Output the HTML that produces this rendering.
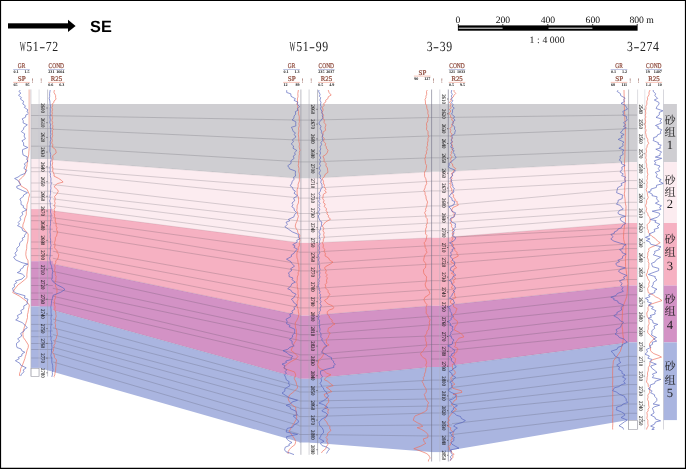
<!DOCTYPE html>
<html lang="zh"><head><meta charset="utf-8"><title>SE section</title>
<style>html,body{margin:0;padding:0;background:#fff}body{width:686px;height:469px;overflow:hidden}svg{display:block}</style>
</head><body>
<svg width="686" height="469" viewBox="0 0 686 469" text-rendering="geometricPrecision">
<rect x="0" y="0" width="686" height="469" fill="#fff"/>
<g id="bands">
<polygon points="39.6,104.0 300.9,104.0 300.9,178.5 39.6,159.0" fill="#cfced2"/>
<polygon points="39.6,159.0 300.9,178.5 300.9,242.9 39.6,209.1" fill="#fcecf0"/>
<polygon points="39.6,209.1 300.9,242.9 300.9,315.6 39.6,261.2" fill="#f6b1c2"/>
<polygon points="39.6,261.2 300.9,315.6 300.9,378.8 39.6,306.4" fill="#d392c5"/>
<polygon points="39.6,306.4 300.9,378.8 300.9,442.5 39.6,367.9" fill="#aab5e0"/>
<polygon points="309.5,104.0 431.4,104.0 431.4,171.8 309.5,178.5" fill="#cfced2"/>
<polygon points="309.5,178.5 431.4,171.8 431.4,237.8 309.5,242.9" fill="#fcecf0"/>
<polygon points="309.5,242.9 431.4,237.8 431.4,305.8 309.5,315.6" fill="#f6b1c2"/>
<polygon points="309.5,315.6 431.4,305.8 431.4,367.0 309.5,378.8" fill="#d392c5"/>
<polygon points="309.5,378.8 431.4,367.0 431.4,452.1 309.5,442.5" fill="#aab5e0"/>
<polygon points="440.0,104.0 628.6,104.0 628.6,162.2 440.0,171.8" fill="#cfced2"/>
<polygon points="440.0,171.8 628.6,162.2 628.6,223.0 440.0,237.8" fill="#fcecf0"/>
<polygon points="440.0,237.8 628.6,223.0 628.6,285.5 440.0,305.8" fill="#f6b1c2"/>
<polygon points="440.0,305.8 628.6,285.5 628.6,342.4 440.0,367.0" fill="#d392c5"/>
<polygon points="440.0,367.0 628.6,342.4 628.6,420.1 440.0,452.1" fill="#aab5e0"/>
</g>
<path id="sub" fill="none" stroke="#3a3a48" stroke-opacity="0.34" stroke-width="0.6" d="M39.6 115.5L300.9 120.1M39.6 128.6L300.9 140.2M39.6 146.2L300.9 161.9M39.6 167.8L300.9 188.4M39.6 171.7L300.9 198.1M39.6 183.0L300.9 213.5M39.6 191.2L300.9 221.2M39.6 197.2L300.9 229.6M39.6 203.7L300.9 238.2M39.6 215.9L300.9 252.2M39.6 220.7L300.9 264.1M39.6 229.2L300.9 270.9M39.6 242.0L300.9 288.8M39.6 248.7L300.9 298.0M39.6 255.6L300.9 307.9M39.6 268.4L300.9 325.5M39.6 278.1L300.9 334.7M39.6 285.5L300.9 340.7M39.6 293.0L300.9 354.8M39.6 299.5L300.9 360.3M39.6 315.4L300.9 386.9M39.6 324.4L300.9 392.0M39.6 331.0L300.9 401.0M39.6 336.7L300.9 408.3M39.6 343.5L300.9 416.6M39.6 349.5L300.9 426.0M39.6 358.0L300.9 434.5M309.5 120.1L431.4 117.5M309.5 140.2L431.4 135.9M309.5 161.9L431.4 157.8M309.5 188.4L431.4 181.2M309.5 198.1L431.4 190.9M309.5 213.5L431.4 205.9M309.5 221.2L431.4 215.8M309.5 229.6L431.4 223.0M309.5 238.2L431.4 230.7M309.5 252.2L431.4 245.7M309.5 264.1L431.4 255.6M309.5 270.9L431.4 264.1M309.5 288.8L431.4 280.7M309.5 298.0L431.4 289.7M309.5 307.9L431.4 299.1M309.5 325.5L431.4 316.3M309.5 334.7L431.4 324.8M309.5 340.7L431.4 335.9M309.5 354.8L431.4 344.5M309.5 360.3L431.4 351.3M309.5 386.9L431.4 380.1M309.5 392.0L431.4 389.0M309.5 401.0L431.4 398.9M309.5 408.3L431.4 406.0M309.5 416.6L431.4 413.0M309.5 426.0L431.4 425.0M309.5 434.5L431.4 436.0M440.0 117.5L628.6 115.1M440.0 135.9L628.6 128.7M440.0 157.8L628.6 150.3M440.0 181.2L628.6 170.7M440.0 190.9L628.6 180.6M440.0 205.9L628.6 188.6M440.0 215.8L628.6 202.3M440.0 223.0L628.6 209.9M440.0 230.7L628.6 216.0M440.0 245.7L628.6 233.3M440.0 255.6L628.6 244.0M440.0 264.1L628.6 248.6M440.0 280.7L628.6 259.7M440.0 289.7L628.6 268.2M440.0 299.1L628.6 279.5M440.0 316.3L628.6 294.8M440.0 324.8L628.6 305.1M440.0 335.9L628.6 313.6M440.0 344.5L628.6 323.0M440.0 351.3L628.6 332.4M440.0 380.1L628.6 356.4M440.0 389.0L628.6 365.0M440.0 398.9L628.6 375.2M440.0 406.0L628.6 384.6M440.0 413.0L628.6 394.0M440.0 425.0L628.6 404.0M440.0 436.0L628.6 413.3M440.0 237.8L628.6 228.1"/>
<path id="bl" fill="none" stroke="#3a3a48" stroke-opacity="0.2" stroke-width="0.5" d="M39.6 159.0L300.9 178.5M39.6 209.1L300.9 242.9M39.6 261.2L300.9 315.6M39.6 306.4L300.9 378.8M309.5 178.5L431.4 171.8M309.5 242.9L431.4 237.8M309.5 315.6L431.4 305.8M309.5 378.8L431.4 367.0M440.0 171.8L628.6 162.2M440.0 237.8L628.6 223.0M440.0 305.8L628.6 285.5M440.0 367.0L628.6 342.4"/>
<g id="wellfill">
<rect x="31.0" y="104.0" width="21.8" height="55.0" fill="#cfced2"/>
<rect x="31.0" y="159.0" width="21.8" height="50.1" fill="#fcecf0"/>
<rect x="31.0" y="209.1" width="21.8" height="52.1" fill="#f6b1c2"/>
<rect x="31.0" y="261.2" width="21.8" height="45.2" fill="#d392c5"/>
<rect x="31.0" y="306.4" width="21.8" height="61.5" fill="#aab5e0"/>
<rect x="299.3" y="104.0" width="21.2" height="74.5" fill="#cfced2"/>
<rect x="299.3" y="178.5" width="21.2" height="64.4" fill="#fcecf0"/>
<rect x="299.3" y="242.9" width="21.2" height="72.7" fill="#f6b1c2"/>
<rect x="299.3" y="315.6" width="21.2" height="63.2" fill="#d392c5"/>
<rect x="299.3" y="378.8" width="21.2" height="63.7" fill="#aab5e0"/>
<rect x="431.0" y="104.0" width="21.0" height="67.8" fill="#cfced2"/>
<rect x="431.0" y="171.8" width="21.0" height="66.0" fill="#fcecf0"/>
<rect x="431.0" y="237.8" width="21.0" height="68.0" fill="#f6b1c2"/>
<rect x="431.0" y="305.8" width="21.0" height="61.2" fill="#d392c5"/>
<rect x="431.0" y="367.0" width="21.0" height="85.1" fill="#aab5e0"/>
<rect x="626.5" y="104.0" width="10.7" height="58.2" fill="#cfced2"/>
<rect x="626.5" y="162.2" width="10.7" height="60.8" fill="#fcecf0"/>
<rect x="626.5" y="223.0" width="10.7" height="62.5" fill="#f6b1c2"/>
<rect x="626.5" y="285.5" width="10.7" height="56.9" fill="#d392c5"/>
<rect x="626.5" y="342.4" width="10.7" height="77.7" fill="#aab5e0"/>
</g>
<path id="subw" fill="none" stroke="#3a3a48" stroke-opacity="0.34" stroke-width="0.6" d="M31.0 115.5H52.8M31.0 128.6H52.8M31.0 146.2H52.8M31.0 167.8H52.8M31.0 171.7H52.8M31.0 183.0H52.8M31.0 191.2H52.8M31.0 197.2H52.8M31.0 203.7H52.8M31.0 215.9H52.8M31.0 220.7H52.8M31.0 229.2H52.8M31.0 242.0H52.8M31.0 248.7H52.8M31.0 255.6H52.8M31.0 268.4H52.8M31.0 278.1H52.8M31.0 285.5H52.8M31.0 293.0H52.8M31.0 299.5H52.8M31.0 315.4H52.8M31.0 324.4H52.8M31.0 331.0H52.8M31.0 336.7H52.8M31.0 343.5H52.8M31.0 349.5H52.8M31.0 358.0H52.8M299.3 120.1H320.5M299.3 140.2H320.5M299.3 161.9H320.5M299.3 188.4H320.5M299.3 198.1H320.5M299.3 213.5H320.5M299.3 221.2H320.5M299.3 229.6H320.5M299.3 238.2H320.5M299.3 252.2H320.5M299.3 264.1H320.5M299.3 270.9H320.5M299.3 288.8H320.5M299.3 298.0H320.5M299.3 307.9H320.5M299.3 325.5H320.5M299.3 334.7H320.5M299.3 340.7H320.5M299.3 354.8H320.5M299.3 360.3H320.5M299.3 386.9H320.5M299.3 392.0H320.5M299.3 401.0H320.5M299.3 408.3H320.5M299.3 416.6H320.5M299.3 426.0H320.5M299.3 434.5H320.5M431.0 117.5H452.0M431.0 135.9H452.0M431.0 157.8H452.0M431.0 181.2H452.0M431.0 190.9H452.0M431.0 205.9H452.0M431.0 215.8H452.0M431.0 223.0H452.0M431.0 230.7H452.0M431.0 245.7H452.0M431.0 255.6H452.0M431.0 264.1H452.0M431.0 280.7H452.0M431.0 289.7H452.0M431.0 299.1H452.0M431.0 316.3H452.0M431.0 324.8H452.0M431.0 335.9H452.0M431.0 344.5H452.0M431.0 351.3H452.0M431.0 359.0H452.0M431.0 380.1H452.0M431.0 389.0H452.0M431.0 398.9H452.0M431.0 406.0H452.0M431.0 413.0H452.0M431.0 425.0H452.0M431.0 436.0H452.0M626.5 115.1H637.2M626.5 128.7H637.2M626.5 150.3H637.2M626.5 170.7H637.2M626.5 180.6H637.2M626.5 188.6H637.2M626.5 202.3H637.2M626.5 209.9H637.2M626.5 216.0H637.2M626.5 233.3H637.2M626.5 244.0H637.2M626.5 248.6H637.2M626.5 259.7H637.2M626.5 268.2H637.2M626.5 279.5H637.2M626.5 294.8H637.2M626.5 305.1H637.2M626.5 313.6H637.2M626.5 323.0H637.2M626.5 332.4H637.2M626.5 356.4H637.2M626.5 365.0H637.2M626.5 375.2H637.2M626.5 384.6H637.2M626.5 394.0H637.2M626.5 404.0H637.2M626.5 413.3H637.2M626.5 228.1H637.2"/>
<g id="labels">
<rect x="663.3" y="104.0" width="13.6" height="58.2" fill="#cfced2"/>
<rect x="663.3" y="162.2" width="13.6" height="60.8" fill="#fcecf0"/>
<rect x="663.3" y="223.0" width="13.6" height="62.5" fill="#f6b1c2"/>
<rect x="663.3" y="285.5" width="13.6" height="56.9" fill="#d392c5"/>
<rect x="663.3" y="342.4" width="13.6" height="77.7" fill="#aab5e0"/>
</g>
<rect x="637.2" y="89.5" width="26.1" height="340" fill="#fff"/>
<g font-family="'Liberation Serif','Noto Serif CJK SC',serif" font-size="11.2" fill="#1e1e1e" text-anchor="middle">
<text x="670.0" y="123.5">砂</text>
<text x="670.0" y="136.4">组</text>
<text x="670.0" y="148.9" font-size="12.6">1</text>
<text x="670.0" y="183.6">砂</text>
<text x="670.0" y="195.6">组</text>
<text x="670.0" y="208.2" font-size="12.6">2</text>
<text x="670.0" y="243.2">砂</text>
<text x="670.0" y="255.6">组</text>
<text x="670.0" y="269.9" font-size="12.6">3</text>
<text x="670.0" y="303.1">砂</text>
<text x="670.0" y="315.4">组</text>
<text x="670.0" y="328.9" font-size="12.6">4</text>
<text x="670.0" y="370.2">砂</text>
<text x="670.0" y="384.2">组</text>
<text x="670.0" y="397.2" font-size="12.6">5</text>
</g>
<g id="wells">
<g stroke="#8c8c98" stroke-width="0.6" fill="none">
<line x1="30.9" y1="89.5" x2="30.9" y2="376.4" stroke="#b0b0bc"/>
<line x1="39.1" y1="89.5" x2="39.1" y2="376.4" stroke="#c4c4ce" stroke-width="0.5"/>
<line x1="47.6" y1="89.5" x2="47.6" y2="376.4" stroke="#a0a0ae"/>
</g>
<rect x="31.1" y="368.3" width="7.9" height="8.1" fill="#fff" stroke="#9a9aa4" stroke-width="0.6"/>
<g font-family="'Liberation Serif',serif" font-size="5.5" fill="#161616" stroke="#161616" stroke-width="0.07" text-anchor="middle">
<text transform="translate(43.0,108.0) rotate(90)" textLength="9.6" lengthAdjust="spacingAndGlyphs" y="1.8">2600</text>
<text transform="translate(43.0,122.7) rotate(90)" textLength="9.6" lengthAdjust="spacingAndGlyphs" y="1.8">2610</text>
<text transform="translate(43.0,137.4) rotate(90)" textLength="9.6" lengthAdjust="spacingAndGlyphs" y="1.8">2620</text>
<text transform="translate(43.0,152.1) rotate(90)" textLength="9.6" lengthAdjust="spacingAndGlyphs" y="1.8">2630</text>
<text transform="translate(43.0,166.8) rotate(90)" textLength="9.6" lengthAdjust="spacingAndGlyphs" y="1.8">2640</text>
<text transform="translate(43.0,181.6) rotate(90)" textLength="9.6" lengthAdjust="spacingAndGlyphs" y="1.8">2650</text>
<text transform="translate(43.0,196.3) rotate(90)" textLength="9.6" lengthAdjust="spacingAndGlyphs" y="1.8">2660</text>
<text transform="translate(43.0,211.0) rotate(90)" textLength="9.6" lengthAdjust="spacingAndGlyphs" y="1.8">2670</text>
<text transform="translate(43.0,225.7) rotate(90)" textLength="9.6" lengthAdjust="spacingAndGlyphs" y="1.8">2680</text>
<text transform="translate(43.0,240.4) rotate(90)" textLength="9.6" lengthAdjust="spacingAndGlyphs" y="1.8">2690</text>
<text transform="translate(43.0,255.1) rotate(90)" textLength="9.6" lengthAdjust="spacingAndGlyphs" y="1.8">2700</text>
<text transform="translate(43.0,269.8) rotate(90)" textLength="9.6" lengthAdjust="spacingAndGlyphs" y="1.8">2710</text>
<text transform="translate(43.0,284.5) rotate(90)" textLength="9.6" lengthAdjust="spacingAndGlyphs" y="1.8">2720</text>
<text transform="translate(43.0,299.2) rotate(90)" textLength="9.6" lengthAdjust="spacingAndGlyphs" y="1.8">2730</text>
<text transform="translate(43.0,313.9) rotate(90)" textLength="9.6" lengthAdjust="spacingAndGlyphs" y="1.8">2740</text>
<text transform="translate(43.0,328.6) rotate(90)" textLength="9.6" lengthAdjust="spacingAndGlyphs" y="1.8">2750</text>
<text transform="translate(43.0,343.4) rotate(90)" textLength="9.6" lengthAdjust="spacingAndGlyphs" y="1.8">2760</text>
<text transform="translate(43.0,358.1) rotate(90)" textLength="9.6" lengthAdjust="spacingAndGlyphs" y="1.8">2770</text>
<text transform="translate(43.0,372.8) rotate(90)" textLength="9.6" lengthAdjust="spacingAndGlyphs" y="1.8">2780</text>
</g>
<path d="M47.5 108.0h-1.1M47.5 122.7h-1.1M47.5 137.4h-1.1M47.5 152.1h-1.1M47.5 166.8h-1.1M47.5 181.6h-1.1M47.5 196.3h-1.1M47.5 211.0h-1.1M47.5 225.7h-1.1M47.5 240.4h-1.1M47.5 255.1h-1.1M47.5 269.8h-1.1M47.5 284.5h-1.1M47.5 299.2h-1.1M47.5 313.9h-1.1M47.5 328.6h-1.1M47.5 343.4h-1.1M47.5 358.1h-1.1M47.5 372.8h-1.1" stroke="#222" stroke-width="0.6" fill="none"/>
<g stroke="#8c8c98" stroke-width="0.6" fill="none">
<line x1="300.9" y1="89.5" x2="300.9" y2="454.8" stroke="#8e8e9c"/>
<line x1="309.1" y1="89.5" x2="309.1" y2="454.8" stroke="#a4a4b0" stroke-width="0.5"/>
<line x1="317.6" y1="89.5" x2="317.6" y2="454.8" stroke="#8a8a98"/>
</g>
<g font-family="'Liberation Serif',serif" font-size="5.5" fill="#161616" stroke="#161616" stroke-width="0.07" text-anchor="middle">
<text transform="translate(313.0,109.3) rotate(90)" textLength="9.6" lengthAdjust="spacingAndGlyphs" y="1.8">2660</text>
<text transform="translate(313.0,124.1) rotate(90)" textLength="9.6" lengthAdjust="spacingAndGlyphs" y="1.8">2670</text>
<text transform="translate(313.0,138.9) rotate(90)" textLength="9.6" lengthAdjust="spacingAndGlyphs" y="1.8">2680</text>
<text transform="translate(313.0,153.7) rotate(90)" textLength="9.6" lengthAdjust="spacingAndGlyphs" y="1.8">2690</text>
<text transform="translate(313.0,168.5) rotate(90)" textLength="9.6" lengthAdjust="spacingAndGlyphs" y="1.8">2700</text>
<text transform="translate(313.0,183.3) rotate(90)" textLength="9.6" lengthAdjust="spacingAndGlyphs" y="1.8">2710</text>
<text transform="translate(313.0,198.1) rotate(90)" textLength="9.6" lengthAdjust="spacingAndGlyphs" y="1.8">2720</text>
<text transform="translate(313.0,212.9) rotate(90)" textLength="9.6" lengthAdjust="spacingAndGlyphs" y="1.8">2730</text>
<text transform="translate(313.0,227.7) rotate(90)" textLength="9.6" lengthAdjust="spacingAndGlyphs" y="1.8">2740</text>
<text transform="translate(313.0,242.5) rotate(90)" textLength="9.6" lengthAdjust="spacingAndGlyphs" y="1.8">2750</text>
<text transform="translate(313.0,257.3) rotate(90)" textLength="9.6" lengthAdjust="spacingAndGlyphs" y="1.8">2760</text>
<text transform="translate(313.0,272.1) rotate(90)" textLength="9.6" lengthAdjust="spacingAndGlyphs" y="1.8">2770</text>
<text transform="translate(313.0,286.9) rotate(90)" textLength="9.6" lengthAdjust="spacingAndGlyphs" y="1.8">2780</text>
<text transform="translate(313.0,301.7) rotate(90)" textLength="9.6" lengthAdjust="spacingAndGlyphs" y="1.8">2790</text>
<text transform="translate(313.0,316.5) rotate(90)" textLength="9.6" lengthAdjust="spacingAndGlyphs" y="1.8">2800</text>
<text transform="translate(313.0,331.3) rotate(90)" textLength="9.6" lengthAdjust="spacingAndGlyphs" y="1.8">2810</text>
<text transform="translate(313.0,346.1) rotate(90)" textLength="9.6" lengthAdjust="spacingAndGlyphs" y="1.8">2820</text>
<text transform="translate(313.0,360.9) rotate(90)" textLength="9.6" lengthAdjust="spacingAndGlyphs" y="1.8">2830</text>
<text transform="translate(313.0,375.7) rotate(90)" textLength="9.6" lengthAdjust="spacingAndGlyphs" y="1.8">2840</text>
<text transform="translate(313.0,390.5) rotate(90)" textLength="9.6" lengthAdjust="spacingAndGlyphs" y="1.8">2850</text>
<text transform="translate(313.0,405.3) rotate(90)" textLength="9.6" lengthAdjust="spacingAndGlyphs" y="1.8">2860</text>
<text transform="translate(313.0,420.1) rotate(90)" textLength="9.6" lengthAdjust="spacingAndGlyphs" y="1.8">2870</text>
<text transform="translate(313.0,434.9) rotate(90)" textLength="9.6" lengthAdjust="spacingAndGlyphs" y="1.8">2880</text>
<text transform="translate(313.0,449.7) rotate(90)" textLength="9.6" lengthAdjust="spacingAndGlyphs" y="1.8">2890</text>
</g>
<path d="M317.5 109.3h-1.1M317.5 124.1h-1.1M317.5 138.9h-1.1M317.5 153.7h-1.1M317.5 168.5h-1.1M317.5 183.3h-1.1M317.5 198.1h-1.1M317.5 212.9h-1.1M317.5 227.7h-1.1M317.5 242.5h-1.1M317.5 257.3h-1.1M317.5 272.1h-1.1M317.5 286.9h-1.1M317.5 301.7h-1.1M317.5 316.5h-1.1M317.5 331.3h-1.1M317.5 346.1h-1.1M317.5 360.9h-1.1M317.5 375.7h-1.1M317.5 390.5h-1.1M317.5 405.3h-1.1M317.5 420.1h-1.1M317.5 434.9h-1.1M317.5 449.7h-1.1" stroke="#222" stroke-width="0.6" fill="none"/>
<g stroke="#8c8c98" stroke-width="0.6" fill="none">
<line x1="431.6" y1="89.5" x2="431.6" y2="461.5" stroke="#6e6e84"/>
<line x1="439.8" y1="89.5" x2="439.8" y2="461.5" stroke="#b0b0bc" stroke-width="0.5"/>
<line x1="448.3" y1="89.5" x2="448.3" y2="461.5" stroke="#6e6e84"/>
</g>
<g font-family="'Liberation Serif',serif" font-size="5.5" fill="#161616" stroke="#161616" stroke-width="0.07" text-anchor="middle">
<text transform="translate(443.7,99.0) rotate(90)" textLength="9.6" lengthAdjust="spacingAndGlyphs" y="1.8">2610</text>
<text transform="translate(443.7,113.8) rotate(90)" textLength="9.6" lengthAdjust="spacingAndGlyphs" y="1.8">2620</text>
<text transform="translate(443.7,128.7) rotate(90)" textLength="9.6" lengthAdjust="spacingAndGlyphs" y="1.8">2630</text>
<text transform="translate(443.7,143.5) rotate(90)" textLength="9.6" lengthAdjust="spacingAndGlyphs" y="1.8">2640</text>
<text transform="translate(443.7,158.4) rotate(90)" textLength="9.6" lengthAdjust="spacingAndGlyphs" y="1.8">2650</text>
<text transform="translate(443.7,173.2) rotate(90)" textLength="9.6" lengthAdjust="spacingAndGlyphs" y="1.8">2660</text>
<text transform="translate(443.7,188.1) rotate(90)" textLength="9.6" lengthAdjust="spacingAndGlyphs" y="1.8">2670</text>
<text transform="translate(443.7,202.9) rotate(90)" textLength="9.6" lengthAdjust="spacingAndGlyphs" y="1.8">2680</text>
<text transform="translate(443.7,217.8) rotate(90)" textLength="9.6" lengthAdjust="spacingAndGlyphs" y="1.8">2690</text>
<text transform="translate(443.7,232.6) rotate(90)" textLength="9.6" lengthAdjust="spacingAndGlyphs" y="1.8">2700</text>
<text transform="translate(443.7,247.5) rotate(90)" textLength="9.6" lengthAdjust="spacingAndGlyphs" y="1.8">2710</text>
<text transform="translate(443.7,262.3) rotate(90)" textLength="9.6" lengthAdjust="spacingAndGlyphs" y="1.8">2720</text>
<text transform="translate(443.7,277.1) rotate(90)" textLength="9.6" lengthAdjust="spacingAndGlyphs" y="1.8">2730</text>
<text transform="translate(443.7,292.0) rotate(90)" textLength="9.6" lengthAdjust="spacingAndGlyphs" y="1.8">2740</text>
<text transform="translate(443.7,306.8) rotate(90)" textLength="9.6" lengthAdjust="spacingAndGlyphs" y="1.8">2750</text>
<text transform="translate(443.7,321.7) rotate(90)" textLength="9.6" lengthAdjust="spacingAndGlyphs" y="1.8">2760</text>
<text transform="translate(443.7,336.5) rotate(90)" textLength="9.6" lengthAdjust="spacingAndGlyphs" y="1.8">2770</text>
<text transform="translate(443.7,351.4) rotate(90)" textLength="9.6" lengthAdjust="spacingAndGlyphs" y="1.8">2780</text>
<text transform="translate(443.7,366.2) rotate(90)" textLength="9.6" lengthAdjust="spacingAndGlyphs" y="1.8">2790</text>
<text transform="translate(443.7,381.1) rotate(90)" textLength="9.6" lengthAdjust="spacingAndGlyphs" y="1.8">2800</text>
<text transform="translate(443.7,395.9) rotate(90)" textLength="9.6" lengthAdjust="spacingAndGlyphs" y="1.8">2810</text>
<text transform="translate(443.7,410.7) rotate(90)" textLength="9.6" lengthAdjust="spacingAndGlyphs" y="1.8">2820</text>
<text transform="translate(443.7,425.6) rotate(90)" textLength="9.6" lengthAdjust="spacingAndGlyphs" y="1.8">2830</text>
<text transform="translate(443.7,440.4) rotate(90)" textLength="9.6" lengthAdjust="spacingAndGlyphs" y="1.8">2840</text>
<text transform="translate(443.7,455.3) rotate(90)" textLength="9.6" lengthAdjust="spacingAndGlyphs" y="1.8">2850</text>
</g>
<path d="M448.2 99.0h-1.1M448.2 113.8h-1.1M448.2 128.7h-1.1M448.2 143.5h-1.1M448.2 158.4h-1.1M448.2 173.2h-1.1M448.2 188.1h-1.1M448.2 202.9h-1.1M448.2 217.8h-1.1M448.2 232.6h-1.1M448.2 247.5h-1.1M448.2 262.3h-1.1M448.2 277.1h-1.1M448.2 292.0h-1.1M448.2 306.8h-1.1M448.2 321.7h-1.1M448.2 336.5h-1.1M448.2 351.4h-1.1M448.2 366.2h-1.1M448.2 381.1h-1.1M448.2 395.9h-1.1M448.2 410.7h-1.1M448.2 425.6h-1.1M448.2 440.4h-1.1M448.2 455.3h-1.1" stroke="#222" stroke-width="0.6" fill="none"/>
<g stroke="#8c8c98" stroke-width="0.6" fill="none">
<line x1="628.6" y1="89.5" x2="628.6" y2="429.5"/>
<line x1="637.6" y1="89.5" x2="637.6" y2="429.5" stroke="#c4c4cc"/>
<line x1="644.8" y1="89.5" x2="644.8" y2="429.5" stroke="#d0d0d8"/>
<line x1="663.5" y1="89.5" x2="663.5" y2="429.5" stroke="#bcbcc6"/>
<rect x="628.6" y="420.4" width="8.7" height="9.1" fill="#fff" stroke="#9a9aa4" stroke-width="0.6"/>
</g>
<g font-family="'Liberation Serif',serif" font-size="5.5" fill="#161616" stroke="#161616" stroke-width="0.07" text-anchor="middle">
<text transform="translate(640.8,109.2) rotate(90)" textLength="9.6" lengthAdjust="spacingAndGlyphs" y="1.8">2540</text>
<text transform="translate(640.8,124.0) rotate(90)" textLength="9.6" lengthAdjust="spacingAndGlyphs" y="1.8">2550</text>
<text transform="translate(640.8,138.9) rotate(90)" textLength="9.6" lengthAdjust="spacingAndGlyphs" y="1.8">2560</text>
<text transform="translate(640.8,153.7) rotate(90)" textLength="9.6" lengthAdjust="spacingAndGlyphs" y="1.8">2570</text>
<text transform="translate(640.8,168.5) rotate(90)" textLength="9.6" lengthAdjust="spacingAndGlyphs" y="1.8">2580</text>
<text transform="translate(640.8,183.4) rotate(90)" textLength="9.6" lengthAdjust="spacingAndGlyphs" y="1.8">2590</text>
<text transform="translate(640.8,198.2) rotate(90)" textLength="9.6" lengthAdjust="spacingAndGlyphs" y="1.8">2600</text>
<text transform="translate(640.8,213.0) rotate(90)" textLength="9.6" lengthAdjust="spacingAndGlyphs" y="1.8">2610</text>
<text transform="translate(640.8,227.8) rotate(90)" textLength="9.6" lengthAdjust="spacingAndGlyphs" y="1.8">2620</text>
<text transform="translate(640.8,242.7) rotate(90)" textLength="9.6" lengthAdjust="spacingAndGlyphs" y="1.8">2630</text>
<text transform="translate(640.8,257.5) rotate(90)" textLength="9.6" lengthAdjust="spacingAndGlyphs" y="1.8">2640</text>
<text transform="translate(640.8,272.3) rotate(90)" textLength="9.6" lengthAdjust="spacingAndGlyphs" y="1.8">2650</text>
<text transform="translate(640.8,287.2) rotate(90)" textLength="9.6" lengthAdjust="spacingAndGlyphs" y="1.8">2660</text>
<text transform="translate(640.8,302.0) rotate(90)" textLength="9.6" lengthAdjust="spacingAndGlyphs" y="1.8">2670</text>
<text transform="translate(640.8,316.8) rotate(90)" textLength="9.6" lengthAdjust="spacingAndGlyphs" y="1.8">2680</text>
<text transform="translate(640.8,331.6) rotate(90)" textLength="9.6" lengthAdjust="spacingAndGlyphs" y="1.8">2690</text>
<text transform="translate(640.8,346.5) rotate(90)" textLength="9.6" lengthAdjust="spacingAndGlyphs" y="1.8">2700</text>
<text transform="translate(640.8,361.3) rotate(90)" textLength="9.6" lengthAdjust="spacingAndGlyphs" y="1.8">2710</text>
<text transform="translate(640.8,376.1) rotate(90)" textLength="9.6" lengthAdjust="spacingAndGlyphs" y="1.8">2720</text>
<text transform="translate(640.8,391.0) rotate(90)" textLength="9.6" lengthAdjust="spacingAndGlyphs" y="1.8">2730</text>
<text transform="translate(640.8,405.8) rotate(90)" textLength="9.6" lengthAdjust="spacingAndGlyphs" y="1.8">2740</text>
<text transform="translate(640.8,420.6) rotate(90)" textLength="9.6" lengthAdjust="spacingAndGlyphs" y="1.8">2750</text>
</g>
<path d="M644.7 109.2h-1.1M644.7 124.0h-1.1M644.7 138.9h-1.1M644.7 153.7h-1.1M644.7 168.5h-1.1M644.7 183.4h-1.1M644.7 198.2h-1.1M644.7 213.0h-1.1M644.7 227.8h-1.1M644.7 242.7h-1.1M644.7 257.5h-1.1M644.7 272.3h-1.1M644.7 287.2h-1.1M644.7 302.0h-1.1M644.7 316.8h-1.1M644.7 331.6h-1.1M644.7 346.5h-1.1M644.7 361.3h-1.1M644.7 376.1h-1.1M644.7 391.0h-1.1M644.7 405.8h-1.1M644.7 420.6h-1.1" stroke="#222" stroke-width="0.6" fill="none"/>
</g>
<g id="curves" fill="none" stroke-width="0.66" stroke-linejoin="round">
<polyline stroke="#ee6c5a" points="29.3,149.0 28.9,151.1 28.7,154.8 27.8,158.4 27.5,162.1 27.0,164.1 27.0,166.0 25.8,170.1 25.4,172.6 24.5,174.9 22.5,177.1 18.8,180.4 19.7,182.8 21.0,185.9 27.2,189.6 28.7,193.0 29.6,194.8 28.5,198.5 28.3,200.7 27.0,204.7 26.9,207.6 26.3,211.6 26.3,214.7 24.9,218.0 24.2,221.6 23.1,224.1 22.7,227.2 25.5,231.0 28.2,234.0 28.1,237.7 27.8,241.1 26.8,244.9 26.7,248.5 26.0,251.5 25.8,254.7 26.5,258.1 27.9,260.3 28.2,263.8 28.1,265.7 27.5,268.1 27.2,271.3 26.8,274.9 27.0,277.5 24.8,279.6 21.1,282.7 17.9,285.0 14.8,289.0 12.7,292.5 19.1,295.9 23.5,299.0 26.5,301.2 29.3,305.1 29.0,307.4 28.5,309.4 28.0,312.8 27.4,314.7 27.5,317.5 26.7,320.4 25.8,323.3 24.5,326.5 24.0,328.6 23.1,331.4 22.9,334.7 23.3,337.4 25.8,340.9 28.4,345.1 28.2,347.6 27.1,350.1 26.1,354.3 25.3,356.7 24.9,358.6 23.6,362.0 22.2,365.8 20.7,368.5 20.4,371.3 19.5,373.6 19.5,375.4 19.2,376.0"/>
<polyline stroke="#ee6c5a" points="54.4,90.0 53.9,92.3 55.6,95.4 55.6,97.5 56.1,99.2 54.0,101.0 53.8,102.7 52.0,104.2 52.7,105.6 51.9,107.6 52.6,109.5 52.0,111.5 52.4,113.6 51.7,115.1 52.6,117.6 51.9,120.5 52.7,122.5 52.1,124.5 53.0,125.9 52.5,128.1 53.2,129.5 52.2,130.8 52.6,132.4 52.3,134.1 52.7,135.6 51.8,138.2 52.4,140.7 51.7,142.9 52.9,144.8 52.4,147.3 54.5,148.6 55.7,150.0 56.2,153.0 52.6,155.8 53.0,158.4 52.0,161.1 52.7,162.7 52.1,165.4 52.9,168.3 52.7,171.2 54.1,174.2 54.0,176.1 58.6,178.4 61.4,180.3 63.1,182.1 57.3,183.6 55.2,185.4 54.2,186.9 57.6,189.8 58.3,191.3 56.8,194.1 54.5,196.6 55.3,198.7 54.6,201.4 55.2,203.2 54.3,205.5 55.2,207.4 54.1,209.3 54.8,212.2 54.2,213.6 54.7,215.0 54.5,216.5 55.4,218.5 55.1,221.0 56.2,223.5 56.0,226.0 57.0,227.6 56.5,229.5 57.6,232.1 56.9,234.2 56.6,236.0 55.4,237.4 55.3,240.0 54.6,242.5 55.1,245.1 54.5,247.8 57.1,250.8 57.0,252.2 58.7,254.4 58.4,256.8 57.5,259.4 55.7,260.8 55.8,262.6 54.6,265.1 55.1,267.9 54.5,270.5 55.4,273.1 55.2,274.8 56.2,276.5 55.8,278.0 55.9,279.7 55.0,282.3 55.6,284.8 55.7,286.9 56.9,288.5 57.0,291.1 56.8,293.3 55.0,295.7 55.5,297.6 54.4,300.5 54.7,302.7 54.3,304.2 55.1,306.6 54.8,309.7 55.9,312.7 55.8,314.3 56.2,316.1 55.3,319.2 55.9,320.9 54.8,322.9 55.6,324.5 55.3,327.4 57.0,330.4 57.0,331.8 57.4,334.7 56.5,336.4 56.5,338.0 54.8,340.9 55.1,343.6 53.8,345.2 54.3,346.9 53.1,348.3 53.7,349.9 52.5,352.4 54.2,354.9 54.5,357.6 56.6,360.0 55.9,362.8 56.1,365.3 55.7,367.8 55.6,370.6 54.9,373.6 54.8,375.0 53.9,376.6 54.4,377.0"/>
<polyline stroke="#5563bd" points="20.3,90.0 18.9,91.5 20.9,93.1 18.5,95.3 21.5,97.6 20.3,99.0 23.6,101.3 22.8,104.0 25.5,105.9 24.3,107.4 27.9,109.8 26.9,111.8 29.5,113.4 25.9,114.9 25.5,117.2 22.1,118.9 23.3,120.7 23.1,122.9 27.3,124.8 23.7,127.6 23.6,129.2 21.3,131.6 24.7,133.8 24.1,136.1 25.4,138.8 21.9,140.8 23.6,142.8 23.6,145.6 27.8,147.5 22.5,149.7 22.5,152.1 23.1,155.0 27.3,156.9 26.8,159.7 28.0,161.1 24.3,163.9 25.3,165.5 23.9,168.4 26.9,170.4 25.9,172.0 24.9,173.5 20.6,175.2 18.0,177.1 14.6,178.5 18.1,180.5 19.5,183.0 20.7,184.7 16.7,186.4 16.9,188.0 22.7,190.6 27.5,192.7 23.6,195.0 23.4,196.4 19.9,199.0 21.1,201.7 21.0,204.5 23.5,205.8 23.1,207.4 26.6,209.8 21.9,212.3 22.8,214.6 19.9,217.3 20.8,219.8 18.2,222.5 19.5,224.1 17.5,225.6 21.9,227.9 22.7,230.6 26.8,232.5 24.5,235.3 24.6,236.9 22.2,238.2 23.0,239.9 19.7,242.8 19.5,245.6 16.8,248.2 17.1,251.0 14.9,253.1 16.3,255.4 13.6,257.1 15.6,259.9 22.0,262.7 28.0,264.1 23.9,265.6 22.9,267.9 20.3,269.4 20.4,271.0 17.3,272.6 22.3,274.1 24.7,276.2 22.0,279.0 15.4,281.1 16.7,282.6 14.1,284.4 14.6,286.8 12.6,288.2 13.3,291.1 15.9,293.1 25.1,295.8 24.3,297.9 28.0,299.3 27.0,302.0 27.3,304.0 23.8,305.9 23.8,308.8 20.7,310.6 21.8,313.1 17.4,315.5 18.3,318.1 15.7,319.9 22.2,322.6 25.2,325.3 27.3,327.8 24.4,329.5 24.2,331.0 20.7,333.4 21.7,336.0 17.6,338.9 19.7,340.9 16.5,343.4 16.5,345.7 17.1,347.6 21.1,348.9 21.9,350.9 24.8,352.2 21.9,354.0 21.8,356.0 18.2,357.4 19.2,358.8 15.4,360.7 20.0,363.4 20.7,365.2 26.2,367.8 23.1,370.1 24.1,371.7 21.0,374.6 20.8,376.0"/>
<polyline stroke="#5563bd" points="50.2,90.0 49.6,93.5 49.7,96.4 49.2,98.3 49.9,101.0 50.0,103.3 50.5,106.5 50.2,108.2 50.3,111.4 50.1,113.3 50.4,115.1 49.9,116.9 50.3,119.9 49.8,122.2 50.6,124.9 50.2,126.9 50.8,129.5 50.5,132.3 50.9,134.3 50.4,136.2 50.8,139.5 50.1,142.0 50.4,144.1 49.9,145.9 50.0,147.9 49.9,151.3 50.7,154.4 50.5,156.1 51.2,159.6 50.4,162.2 50.5,165.1 50.0,167.7 50.3,170.0 49.9,172.4 50.6,174.0 50.3,175.6 51.0,178.8 50.8,181.5 51.3,183.4 50.7,186.1 51.0,188.3 50.5,190.5 50.6,193.4 50.0,196.2 50.4,198.8 49.7,200.9 50.3,202.8 50.3,205.9 50.9,208.7 50.5,212.0 51.1,214.2 50.8,217.0 51.1,218.5 50.5,221.3 50.6,223.7 50.1,226.9 50.3,229.8 50.0,232.0 50.4,234.5 50.2,237.2 50.7,240.3 50.4,242.1 51.0,245.4 50.3,248.0 50.4,251.3 50.2,253.8 50.2,256.0 49.7,258.4 50.3,261.6 50.2,263.1 51.6,266.2 51.7,267.9 52.8,271.3 52.2,274.5 52.3,277.5 51.6,279.5 53.2,281.9 57.4,285.0 62.7,287.6 65.0,289.5 60.7,292.3 53.1,295.3 52.3,298.7 51.6,300.8 51.4,303.6 50.8,307.0 51.1,310.0 51.0,312.1 51.3,315.2 50.9,318.6 51.3,320.7 51.0,323.0 51.2,324.7 50.7,326.8 50.9,329.7 50.5,332.1 50.8,334.3 50.5,336.0 51.2,337.7 50.9,339.8 51.8,342.2 51.7,344.8 52.0,347.7 51.5,349.2 51.5,352.3 50.9,355.7 51.8,358.8 51.8,362.3 52.7,365.6 52.7,367.7 53.0,369.7 52.3,372.5 52.5,374.1 51.9,376.7 52.0,377.0"/>
<polyline stroke="#ee6c5a" points="298.4,90.0 297.8,93.6 298.0,96.6 297.4,98.9 297.5,102.1 296.9,104.0 297.8,105.8 297.6,108.1 298.6,111.4 298.5,113.8 299.3,116.7 299.2,119.1 299.4,121.8 298.9,123.7 299.3,125.5 298.5,128.7 298.9,130.8 298.3,134.2 298.8,137.9 298.8,141.2 299.5,144.1 299.1,146.8 300.0,150.3 299.2,152.2 299.5,153.9 299.0,155.7 299.0,158.6 298.7,160.5 298.6,163.7 298.2,165.4 299.0,168.5 298.7,171.2 299.4,174.2 299.3,177.5 299.4,180.9 298.1,184.2 298.1,186.8 297.1,189.6 297.1,193.1 297.5,195.6 298.5,197.4 298.6,200.2 298.4,203.0 297.1,205.8 297.1,208.6 296.7,210.2 297.5,212.2 297.7,214.5 298.4,216.2 297.8,218.2 296.8,221.5 295.9,223.4 295.2,226.1 296.2,228.7 297.6,230.7 297.8,232.4 299.8,235.1 299.5,237.8 299.9,240.4 299.4,242.4 299.3,245.6 298.1,247.7 298.3,249.6 297.0,252.7 296.8,255.3 297.0,258.0 297.7,259.6 298.1,263.0 298.7,264.9 299.0,268.2 298.9,271.1 298.1,272.7 298.3,274.5 297.3,277.1 297.2,280.4 296.7,282.1 297.3,284.3 297.2,286.8 298.1,290.4 298.0,293.9 298.5,296.0 297.7,297.9 298.1,299.7 297.1,301.9 297.3,303.9 296.9,306.0 298.2,309.3 298.3,312.0 299.0,314.1 298.1,317.6 296.7,320.6 295.3,322.8 295.2,324.7 295.6,328.1 296.4,329.7 296.4,333.3 296.7,335.0 296.0,337.8 296.2,340.2 294.2,343.1 292.8,346.7 291.0,350.3 294.4,352.9 297.9,356.4 296.1,358.9 291.4,361.4 287.5,363.9 284.4,366.8 284.1,368.5 294.5,371.9 295.8,375.1 294.3,378.7 296.0,381.9 296.7,384.8 297.5,386.5 297.4,388.1 293.9,391.7 289.6,394.9 288.1,398.4 288.9,401.0 290.7,403.2 292.8,405.6 296.0,407.6 295.6,409.2 296.3,411.5 296.3,414.8 296.8,417.9 296.1,419.7 294.0,423.3 292.5,425.4 290.9,428.2 289.2,431.5 292.0,435.1 293.3,437.1 294.5,438.8 295.7,441.5 295.0,444.6 291.3,447.4 289.3,449.6 288.2,451.6 288.1,454.0"/>
<polyline stroke="#ee6c5a" points="328.2,90.0 329.1,92.6 331.2,95.1 328.2,96.8 328.0,98.5 325.6,100.3 326.0,101.7 323.7,103.5 324.2,105.3 322.4,107.3 323.2,110.0 321.9,112.7 323.6,115.5 322.5,117.5 324.4,120.2 324.0,122.4 326.0,124.9 325.1,127.5 325.6,130.3 323.0,132.1 323.1,134.1 322.1,136.3 324.2,138.4 323.5,141.1 325.8,143.8 325.0,145.2 326.4,146.8 326.3,148.2 328.0,150.2 327.2,152.8 325.5,154.9 322.9,156.4 324.2,159.0 324.0,161.4 326.1,163.5 325.9,165.8 327.4,168.0 327.7,170.8 328.0,172.3 325.3,174.2 324.3,176.7 322.2,178.7 323.5,181.3 323.3,182.8 324.5,185.5 324.0,186.8 326.0,189.2 324.7,190.7 326.4,192.3 323.4,194.3 323.0,196.9 322.7,198.8 324.0,200.3 323.4,202.7 325.2,204.0 324.3,206.5 326.6,208.9 325.9,210.7 327.6,212.2 326.8,213.9 328.6,215.5 328.3,216.8 330.5,219.3 325.5,222.0 323.7,224.3 322.3,226.0 323.8,228.3 323.0,230.8 324.2,232.8 323.6,234.7 324.4,237.3 323.4,239.2 323.3,241.3 322.4,242.5 323.4,245.1 323.1,247.5 324.7,249.4 324.1,251.8 325.4,253.1 325.0,255.9 328.6,258.0 329.6,260.2 333.0,262.1 330.1,264.2 325.6,266.6 324.5,268.0 326.3,270.7 325.5,273.0 327.3,274.9 326.1,276.5 327.4,277.9 326.5,280.2 326.8,282.9 325.2,284.5 325.8,286.2 325.3,287.7 328.0,290.5 328.1,292.5 330.1,294.2 328.1,296.7 328.0,298.0 324.5,300.4 326.1,302.3 328.0,304.0 332.4,305.7 333.7,307.5 333.1,308.7 329.5,309.9 327.2,311.8 327.4,314.5 329.3,316.0 329.1,317.5 332.3,320.3 331.8,321.9 335.0,324.0 332.1,325.4 331.3,326.8 328.4,328.1 328.1,330.0 327.7,331.5 330.2,333.0 328.7,335.6 328.3,337.5 326.3,339.2 326.5,341.3 326.4,343.1 329.1,345.0 324.0,347.0 322.9,349.2 322.5,351.7 323.9,354.0 322.5,356.0 321.5,357.8 318.2,360.3 318.6,362.1 317.5,364.7 318.4,366.2 318.9,367.9 323.8,370.4 326.6,373.1 330.9,374.8 327.8,376.2 325.2,378.2 324.4,379.8 327.6,381.2 330.1,383.4 333.2,385.6 326.4,387.5 328.9,389.0 331.8,391.6 324.1,394.4 325.1,396.8 328.1,398.2 328.7,399.9 328.7,402.4 326.9,403.8 326.6,405.0 324.8,407.8 328.9,409.7 327.7,411.2 328.3,413.3 326.7,414.9 326.5,417.0 324.2,419.3 326.7,422.0 327.7,424.3 330.0,426.8 329.6,428.1 330.9,430.6 327.7,433.3 327.5,435.6 326.0,437.6 327.4,439.0 326.7,441.2 328.2,444.0 326.3,446.8 325.9,448.6 322.5,451.3 321.4,453.0"/>
<polyline stroke="#5563bd" points="286.7,90.2 286.7,92.5 290.8,93.8 291.0,96.3 295.5,98.8 293.9,100.3 297.8,102.1 297.4,104.3 299.6,106.7 297.4,108.7 297.9,110.3 295.4,111.6 295.7,114.1 294.1,116.0 293.8,118.4 292.0,119.9 295.9,121.8 295.7,124.0 295.9,125.9 291.4,127.3 292.3,128.9 293.2,131.5 295.5,132.9 294.2,134.3 295.9,137.0 292.4,139.8 293.5,141.7 291.2,143.9 293.6,146.0 293.0,148.2 296.8,150.5 294.6,152.7 295.3,154.7 293.2,156.1 294.1,158.4 290.9,160.8 291.1,163.3 287.7,165.8 288.8,167.2 289.5,168.9 295.6,171.1 295.3,173.5 295.5,176.1 293.5,177.4 294.2,179.4 292.0,181.4 291.9,183.1 290.2,185.8 292.6,187.5 293.1,189.7 295.4,191.1 294.0,193.2 297.4,195.7 293.7,198.1 294.7,200.7 291.9,203.1 293.0,204.6 291.8,206.7 294.2,208.5 294.2,210.2 296.5,212.5 294.4,214.9 294.0,216.8 288.4,219.4 289.9,220.7 286.0,222.3 287.4,224.3 284.9,226.8 288.8,229.4 292.3,231.9 298.4,234.4 298.4,237.2 300.0,238.8 296.8,240.2 297.2,242.1 292.7,244.7 295.1,245.9 293.9,247.3 297.4,249.3 294.9,251.6 293.9,253.4 291.3,254.9 291.5,256.5 286.5,259.2 291.0,261.7 291.7,263.4 294.5,266.1 290.5,268.9 292.0,270.2 288.4,272.9 289.2,274.3 289.0,276.5 293.0,278.1 291.9,279.6 295.4,282.2 291.9,283.7 290.8,286.2 287.7,288.7 290.7,290.0 292.2,292.3 296.1,294.2 295.0,295.5 294.0,297.5 291.4,299.2 292.7,300.6 294.2,303.0 297.1,305.0 293.8,307.6 294.9,309.1 291.8,311.1 292.8,312.9 289.8,314.1 290.6,316.7 286.0,319.3 287.2,321.3 286.5,323.7 290.2,325.4 288.9,326.6 294.8,329.3 294.7,331.5 294.5,333.4 292.3,335.2 292.7,337.0 289.5,339.6 292.1,341.0 292.0,343.7 294.2,345.8 289.8,347.3 287.7,349.3 283.0,350.7 287.3,352.9 288.8,354.6 292.7,356.2 291.1,357.9 291.4,359.5 285.8,361.0 286.4,362.6 282.0,364.1 285.0,365.7 283.9,367.9 286.9,369.8 285.2,371.5 286.4,373.5 284.4,374.8 285.6,377.3 286.3,379.8 289.2,381.7 288.5,383.3 289.9,385.8 284.9,388.6 284.8,391.2 282.0,393.0 285.7,395.5 289.4,397.8 297.5,400.3 292.1,402.0 290.6,403.9 286.1,405.3 290.4,407.1 290.3,408.6 296.0,411.2 296.6,413.5 297.3,414.7 293.2,416.0 296.2,418.6 298.5,421.0 298.2,422.5 294.1,424.9 292.7,427.1 287.3,428.4 286.6,430.2 286.2,432.0 297.6,434.3 286.6,436.7 286.8,439.1 289.5,441.2 292.0,442.5 288.9,444.2 289.4,445.5 285.2,447.2 284.6,449.9 286.0,451.8 289.8,453.0 294.0,454.6"/>
<polyline stroke="#5563bd" points="319.0,90.0 318.7,91.6 320.1,94.4 319.4,96.3 320.7,97.7 319.9,100.1 321.0,102.3 320.4,105.0 321.2,106.7 320.5,108.8 321.9,111.2 321.8,113.0 322.7,114.4 322.2,115.9 323.1,117.5 321.3,120.0 319.3,122.2 319.1,123.9 321.0,126.3 320.2,128.7 321.7,131.1 321.3,132.6 322.9,134.8 322.2,137.5 322.9,140.2 320.9,142.5 321.6,144.5 320.0,147.1 320.8,148.9 319.8,151.0 320.6,153.0 319.6,155.4 320.8,158.1 319.6,159.3 320.4,161.7 319.5,163.9 320.5,165.7 319.0,168.0 320.4,170.7 319.0,173.2 320.6,175.9 319.9,177.7 321.4,179.7 320.7,182.4 321.9,184.3 321.9,185.7 322.3,187.2 320.9,189.0 320.1,191.7 318.9,193.1 320.0,195.7 319.2,197.8 319.8,199.6 318.6,201.0 320.0,203.6 318.7,205.0 319.8,206.3 318.6,207.6 319.9,209.1 318.6,211.8 319.6,214.4 318.2,215.9 319.1,218.5 320.0,220.8 321.9,222.0 321.5,223.4 321.6,225.8 320.4,227.6 320.5,229.4 318.9,231.9 320.1,234.1 319.2,236.7 320.1,239.2 319.4,241.8 319.8,243.7 318.9,245.5 319.5,248.2 318.9,250.3 319.7,252.8 318.2,255.5 319.2,257.8 318.5,260.1 319.2,261.8 318.9,264.4 319.7,265.8 319.4,267.2 320.1,269.6 319.2,271.3 320.0,272.9 319.2,275.1 320.0,276.9 318.7,279.3 319.4,281.1 318.7,282.5 319.1,283.9 318.2,285.3 319.2,288.1 319.1,289.8 320.1,291.6 319.4,293.2 320.5,294.6 319.9,296.1 320.8,297.9 319.8,299.9 321.2,301.8 319.9,303.3 321.3,305.8 320.0,308.1 320.5,310.4 319.1,312.3 319.5,313.5 318.4,315.0 319.2,316.3 318.2,318.7 319.6,320.6 319.1,323.2 319.8,324.6 319.4,326.9 320.1,329.1 319.6,331.6 321.1,334.2 320.7,337.0 322.2,338.5 321.7,340.0 323.8,342.4 325.0,344.7 327.1,345.9 323.9,348.4 322.8,350.1 321.5,352.3 326.3,354.7 328.6,356.4 331.5,357.6 331.4,359.4 333.6,361.1 333.6,362.6 335.3,364.5 333.5,365.7 334.0,367.3 326.5,369.2 320.5,371.1 320.5,373.9 322.4,376.7 321.1,378.5 321.6,381.0 320.1,383.4 321.3,385.0 321.6,386.3 323.4,388.1 323.8,389.7 326.2,392.0 327.3,394.5 328.5,395.8 326.8,398.3 323.6,400.6 318.9,403.1 323.5,404.6 327.8,407.4 323.4,409.3 321.8,411.0 325.8,412.8 327.8,414.9 326.1,416.8 321.1,419.5 320.5,420.8 318.9,422.1 319.5,424.1 319.5,425.4 322.2,427.8 323.4,430.3 323.5,432.8 321.1,434.8 320.5,436.8 319.3,438.5 324.0,441.2 320.4,443.4 322.1,445.6 326.4,447.0 329.6,448.9 327.6,451.5 326.5,453.5"/>
<polyline stroke="#ee6c5a" points="427.3,90.0 426.5,91.5 426.7,94.4 425.9,96.2 426.0,97.7 425.0,99.4 425.4,101.0 425.5,104.0 426.6,105.5 426.9,108.5 428.0,111.0 427.8,113.4 428.8,116.0 427.8,118.1 427.9,120.7 426.4,123.7 426.8,126.3 426.5,129.4 428.0,131.6 428.0,134.4 428.9,136.5 427.9,138.2 428.1,140.6 427.4,143.3 427.6,145.7 426.7,147.1 427.3,149.8 426.3,151.5 426.7,153.0 425.4,155.4 425.8,157.0 424.8,158.4 425.3,160.9 425.5,163.5 426.6,165.5 426.3,168.2 426.0,170.0 424.6,172.0 424.5,173.6 424.7,176.6 425.8,178.7 426.4,181.6 426.7,183.5 425.3,186.3 425.1,187.8 423.8,190.8 425.0,192.3 425.1,194.5 425.9,196.0 426.2,199.0 427.6,202.1 427.0,204.0 426.7,206.3 425.5,209.3 425.9,210.7 424.6,212.8 425.8,215.2 426.0,217.4 427.3,218.9 427.2,221.4 427.4,222.9 426.2,225.3 426.6,226.8 425.6,229.1 425.7,231.3 425.5,233.9 426.9,235.4 426.4,238.5 425.5,241.3 424.0,242.9 424.9,244.8 425.2,247.4 426.3,249.3 426.1,250.7 427.1,252.1 424.8,255.1 424.0,258.0 423.6,260.7 425.7,263.5 425.8,265.3 425.4,267.9 423.5,269.6 423.6,272.3 424.1,273.9 426.7,277.0 426.4,278.3 426.3,281.2 425.1,284.0 425.5,286.0 426.1,287.8 429.0,290.5 429.8,293.5 428.6,295.0 425.0,297.2 423.9,299.8 425.4,302.7 427.0,304.7 426.0,307.6 426.3,310.2 426.1,313.1 427.8,315.4 428.0,317.0 430.0,319.6 429.2,322.6 429.7,324.1 428.9,326.2 428.7,329.2 427.0,331.1 426.6,333.6 424.7,336.4 425.8,338.7 425.6,340.4 426.6,343.0 426.2,344.5 426.7,346.2 424.2,348.8 423.5,350.6 420.6,353.4 421.3,355.7 423.2,357.5 426.0,359.3 426.1,360.7 426.7,362.9 425.7,365.1 426.6,366.6 425.9,368.4 425.6,371.4 424.4,374.4 424.5,375.9 423.2,377.6 423.6,379.6 422.1,381.7 423.4,383.6 424.1,385.8 425.7,388.2 426.4,390.5 426.1,392.3 424.3,394.5 425.4,397.5 426.3,400.0 428.7,402.9 427.6,404.5 427.8,406.5 426.9,408.1 427.1,409.9 424.4,411.9 419.5,414.2 415.2,415.8 414.3,417.2 413.2,420.2 417.1,422.6 420.7,424.3 422.8,426.3 417.2,427.7 421.7,429.5 425.5,431.8 427.7,434.2 428.0,435.6 427.8,437.5 423.3,438.9 424.2,441.9 425.8,443.3 420.8,446.1 413.8,448.7 420.0,450.8 426.1,453.3 428.6,455.0 429.4,456.5 430.2,458.1 428.5,459.9 428.4,461.5"/>
<polyline stroke="#ee6c5a" points="454.0,90.0 454.1,91.5 455.8,93.4 454.0,95.2 453.2,97.0 450.3,99.3 451.4,100.7 449.4,102.1 451.0,104.4 450.0,106.2 451.1,107.6 449.4,109.7 450.9,111.0 449.0,113.5 450.7,115.5 450.6,117.2 452.4,118.3 451.6,120.0 454.0,121.8 451.6,124.2 452.2,126.4 449.8,128.4 450.9,130.4 450.1,132.2 452.1,134.2 450.7,136.4 452.4,138.2 451.2,140.4 452.6,142.0 451.3,143.8 452.8,146.1 451.7,148.0 452.6,150.3 451.1,152.2 451.8,153.5 450.3,154.9 452.0,156.8 450.3,159.2 451.4,160.5 450.3,162.2 452.6,164.0 452.8,166.4 455.7,168.6 453.5,171.1 453.4,172.3 451.4,173.4 452.7,175.2 451.3,176.4 451.9,178.8 450.6,180.1 451.5,182.3 449.6,183.5 451.4,184.8 450.3,186.8 451.8,189.1 451.5,190.6 452.8,191.7 451.6,193.0 453.8,195.1 453.1,196.9 455.3,199.0 454.7,200.4 457.5,201.8 456.7,203.0 458.5,205.0 452.9,207.5 451.8,209.9 452.6,212.2 454.6,213.8 453.9,215.4 454.0,216.7 451.0,219.2 451.6,221.2 450.3,223.1 452.0,225.0 451.4,226.3 452.8,228.6 452.4,230.9 454.1,232.7 451.9,233.8 453.2,235.4 451.5,237.3 452.9,238.9 451.4,240.4 452.7,241.5 451.7,242.9 453.7,244.8 452.9,246.4 454.9,248.3 454.7,250.4 457.3,252.6 456.8,253.7 458.4,256.0 453.3,258.5 451.5,260.9 450.7,262.0 454.1,263.6 455.0,266.1 456.7,267.7 453.9,269.0 453.6,271.1 451.3,273.3 453.6,274.4 453.8,276.4 455.7,278.7 453.3,280.6 454.4,282.3 451.9,283.9 452.6,285.6 451.2,287.9 453.5,290.0 453.1,292.1 454.6,293.3 454.7,295.7 455.9,297.7 453.3,298.8 450.4,300.8 450.5,302.8 453.5,304.5 453.6,306.8 457.1,308.7 455.9,311.2 455.9,312.6 453.1,314.7 453.6,317.2 454.1,318.9 457.3,320.9 457.4,322.9 457.0,324.8 455.2,325.9 454.9,327.7 454.3,329.9 459.2,332.4 462.6,334.8 463.8,336.9 458.9,338.2 457.1,340.6 455.4,342.8 455.6,345.2 454.4,346.6 457.9,348.4 457.1,350.6 456.8,352.1 454.7,353.3 454.2,355.3 452.3,356.6 455.8,358.8 455.3,360.5 454.9,363.0 452.3,364.6 452.5,367.0 452.6,368.9 454.8,371.2 455.3,372.9 454.7,374.2 452.1,375.6 452.4,376.7 450.4,377.9 451.8,379.4 452.2,381.8 454.9,384.2 451.7,386.0 452.8,388.3 461.5,390.8 461.8,392.4 453.0,394.2 456.6,395.5 456.5,397.8 456.6,399.4 454.1,400.6 453.8,401.9 451.2,404.3 453.3,405.9 454.0,407.6 456.6,409.3 453.2,411.7 452.7,412.9 450.6,414.6 449.4,416.8 448.2,418.5 449.3,420.2 447.6,422.5 449.2,424.4 447.6,425.9 450.8,427.8 450.3,429.8 453.5,432.2 452.6,434.3 453.5,436.3 451.5,437.5 452.6,439.0 450.6,440.1 451.8,441.9 450.0,443.5 450.7,444.9 448.4,446.6 449.8,448.0 449.1,449.7 451.4,451.0 451.6,452.5 454.2,454.3 452.5,455.7 453.2,457.3 450.3,459.7 450.5,460.6"/>
<polyline stroke="#5563bd" points="451.8,90.0 451.2,92.3 452.3,94.4 451.3,96.1 452.1,97.9 451.3,99.4 452.9,100.5 451.4,102.8 453.2,104.7 452.2,106.3 454.3,108.2 452.4,109.7 452.6,112.1 451.5,114.1 454.4,116.4 453.6,118.6 455.1,120.2 452.8,121.8 453.2,123.5 452.3,124.8 454.8,126.9 454.4,129.1 455.5,130.5 454.9,132.2 454.7,133.9 451.7,135.7 452.4,137.4 451.3,139.7 452.3,141.9 450.4,143.1 451.9,144.8 450.6,147.1 453.5,148.3 452.3,149.5 454.2,150.7 452.9,152.5 455.0,154.5 454.6,155.6 456.2,157.0 455.4,158.1 454.3,159.4 452.4,160.5 451.9,161.6 448.6,163.8 449.6,164.9 448.4,166.3 449.6,168.0 454.7,170.0 455.2,171.3 452.2,173.7 452.5,176.0 449.9,178.1 451.8,180.1 451.0,181.4 452.4,182.7 451.9,183.9 452.9,184.9 452.8,186.9 454.5,188.9 453.2,190.2 454.0,192.0 450.8,193.8 450.6,194.9 449.1,196.1 452.0,198.3 452.0,200.4 454.8,201.7 454.4,203.0 453.7,205.1 448.8,206.8 451.0,209.0 451.9,211.3 455.6,212.8 454.7,214.9 454.3,216.8 450.8,218.0 450.0,220.1 451.5,221.9 455.6,223.8 455.0,226.1 455.8,227.1 453.2,228.9 454.7,230.7 452.5,232.2 453.9,233.8 452.4,235.6 455.8,237.7 455.2,239.4 453.1,241.2 449.5,242.8 452.1,244.3 452.0,246.2 454.4,248.4 451.9,249.6 452.6,251.2 450.6,252.3 451.3,254.6 450.2,256.8 452.7,258.9 452.4,260.4 454.7,261.9 454.7,264.1 454.0,265.8 451.4,266.9 450.8,268.0 450.2,270.2 453.5,271.6 453.4,272.9 455.8,275.1 452.9,276.7 452.8,278.1 449.3,280.4 451.8,282.0 451.5,283.6 453.7,285.3 455.2,287.6 455.3,289.2 453.3,290.5 454.8,291.7 452.5,293.6 451.8,295.9 449.4,298.1 453.3,299.7 453.7,301.2 454.6,303.1 452.2,304.3 451.3,305.4 448.5,307.1 450.1,309.0 450.1,311.3 451.7,313.2 451.5,315.2 453.4,316.5 450.9,318.2 451.5,319.3 448.2,321.6 450.9,324.0 449.8,325.0 453.0,326.8 452.1,328.9 453.3,330.1 450.8,332.1 451.0,334.0 449.6,335.7 451.5,336.7 451.6,338.3 454.0,340.0 452.5,341.9 452.4,344.0 447.7,345.9 451.2,347.5 452.4,348.8 454.7,350.1 454.3,351.3 454.3,352.8 451.4,354.0 452.1,355.4 449.5,356.5 451.7,358.7 451.3,360.8 454.0,362.8 454.3,364.7 456.3,367.0 452.8,368.9 452.4,370.2 449.1,371.4 452.1,373.7 451.9,375.0 455.8,377.4 453.2,379.4 452.8,380.6 449.7,382.2 452.2,383.8 451.4,384.9 452.3,387.1 449.0,389.1 448.5,390.5 451.1,392.4 456.2,394.6 455.6,396.9 453.1,398.8 449.4,400.1 451.0,401.9 451.6,403.4 457.4,405.7 453.4,408.0 453.4,409.6 451.0,411.7 454.6,413.4 456.6,415.3 460.5,416.5 461.4,418.5 465.4,420.6 462.4,422.4 455.7,424.3 453.6,426.1 457.4,428.1 454.2,430.0 454.0,431.6 449.5,432.8 451.7,434.6 451.9,436.0 454.5,437.5 453.8,438.5 453.8,440.7 450.9,442.7 452.0,444.2 455.9,446.5 459.0,448.2 450.1,450.0 450.9,451.3 451.1,453.4 452.5,454.7 450.3,456.8 451.5,459.2 449.7,460.6"/>
<polyline stroke="#ee6c5a" points="624.0,90.0 624.1,95.0 624.3,100.5 624.2,104.1 624.4,107.1 624.5,110.8 624.8,115.4 624.8,119.0 625.2,122.1 625.2,127.4 625.4,132.4 625.2,137.2 625.3,141.4 625.0,146.6 625.1,149.4 624.9,153.2 624.9,156.4 624.5,161.8 624.5,164.3 624.5,169.7 625.1,174.3 625.1,178.3 625.1,183.4 624.7,188.0 624.8,190.9 624.3,193.8 625.0,198.7 625.3,202.9 626.0,206.5 625.8,211.1 625.9,214.0 625.4,217.7 625.5,221.6 624.5,225.8 623.8,231.3 623.5,236.7 623.7,239.6 624.5,242.8 625.9,245.4 625.8,250.6 625.8,254.9 625.4,258.5 625.5,262.8 625.6,266.7 626.2,270.4 626.5,273.2 627.1,275.9 627.2,278.8 627.8,283.6 627.5,286.2 627.3,291.6 626.7,296.5 625.9,299.0 624.5,302.6 623.0,307.0 622.5,311.2 622.4,314.9 622.1,319.1 622.1,323.6 622.1,327.0 622.6,329.7 622.8,333.8 623.4,338.0 622.7,343.2 621.9,346.2 620.2,351.6 616.5,356.9 613.3,361.0 613.1,364.2 612.7,367.7 612.7,370.1 612.6,375.3 612.8,380.1 612.6,384.0 612.8,387.5 612.7,390.8 612.8,393.3 612.7,397.7 612.8,401.6 612.6,406.4 612.8,410.3 612.6,415.0 612.8,417.4 612.6,420.5 612.8,423.7 612.6,427.7 612.7,429.5"/>
<polyline stroke="#ee6c5a" points="650.0,90.0 649.0,92.2 649.1,94.6 647.4,97.5 647.7,99.1 646.8,101.2 646.9,104.2 645.8,106.4 646.1,108.1 645.5,111.0 645.8,113.2 645.3,115.5 645.9,117.0 645.1,118.8 645.7,121.8 645.0,124.7 645.6,126.1 645.2,128.6 646.1,129.9 645.5,132.4 646.0,134.6 646.4,136.9 647.8,139.4 647.7,141.1 648.7,143.4 647.3,145.1 646.9,147.4 646.0,148.9 646.6,151.3 645.9,153.6 646.2,155.7 645.7,158.0 646.4,159.4 645.9,162.0 646.8,164.9 646.6,166.9 647.4,169.1 647.2,172.0 647.9,174.3 647.1,177.0 647.5,178.4 646.7,180.8 647.3,182.5 646.8,184.4 647.0,187.5 646.1,189.6 647.2,192.3 647.5,195.2 648.2,197.6 646.6,200.4 646.6,202.9 645.5,205.7 646.7,208.7 646.0,211.2 647.6,213.3 648.3,216.0 649.9,217.5 650.2,219.8 649.8,222.0 647.0,224.8 647.3,226.6 647.3,228.8 648.3,230.2 648.3,232.3 650.3,234.7 651.8,236.2 655.3,238.5 657.6,241.1 660.2,242.7 656.0,245.2 651.0,247.3 648.5,248.8 649.0,250.4 647.8,252.9 647.8,255.5 647.3,257.2 648.4,260.2 648.1,261.7 649.0,263.1 648.8,265.3 648.7,267.9 647.6,270.6 647.5,272.3 646.1,275.0 647.5,277.0 647.7,278.4 649.5,281.5 648.6,284.4 649.1,285.9 647.6,288.5 648.1,291.4 648.3,292.7 653.3,295.0 655.4,296.7 658.8,298.3 662.0,300.6 654.8,302.9 648.9,304.9 648.8,306.3 647.9,307.7 648.2,310.3 646.8,313.0 646.9,314.6 647.3,316.5 648.9,319.2 648.8,321.3 649.2,323.7 648.1,326.1 648.3,329.1 647.7,330.6 647.8,332.9 650.8,335.9 654.4,338.8 651.8,340.8 649.8,343.3 649.4,344.9 650.6,347.6 650.4,350.2 651.2,351.6 653.8,353.6 659.1,355.7 661.5,357.1 652.3,359.8 649.9,362.6 649.8,364.9 648.3,367.6 648.3,370.4 647.5,372.9 647.6,375.6 647.1,377.2 647.0,379.4 646.5,382.0 648.1,383.9 648.3,386.4 649.7,387.9 649.8,389.8 649.7,392.4 647.8,395.2 648.1,397.1 647.5,399.2 648.6,401.9 648.6,405.0 649.2,407.5 648.0,409.3 648.2,410.8 646.9,412.5 647.3,415.4 646.9,418.4 647.9,420.3 647.8,423.0 648.2,425.9 646.9,428.0 646.6,429.5"/>
<polyline stroke="#5563bd" points="618.0,90.2 617.1,91.4 620.4,93.6 620.7,95.6 625.1,98.1 623.7,99.7 624.3,101.6 621.0,103.4 625.2,105.2 626.5,107.5 627.5,109.1 622.8,111.4 623.6,113.6 622.7,115.0 626.6,116.5 626.6,118.7 627.3,120.1 623.5,122.6 625.6,125.1 623.4,126.4 626.3,127.8 623.1,129.1 622.0,131.2 620.3,132.5 624.1,134.6 620.9,136.0 622.5,137.3 618.2,139.4 623.9,142.0 622.7,143.4 623.1,145.9 618.9,148.3 623.8,149.9 622.5,152.1 623.2,154.3 619.9,156.5 620.6,158.0 619.3,160.2 621.6,161.7 621.4,163.7 625.2,165.4 621.8,167.1 622.2,169.7 619.9,171.7 623.3,174.1 621.6,175.6 625.5,177.1 624.6,179.0 625.6,181.6 621.0,183.6 622.1,185.2 617.7,187.7 617.1,190.1 616.6,192.7 622.9,195.2 622.3,196.7 622.2,198.6 618.0,200.4 618.1,202.0 616.4,204.2 620.2,205.3 621.8,207.5 623.3,209.1 619.5,210.3 617.9,212.9 618.8,214.2 625.4,216.3 620.9,217.8 620.2,219.1 621.2,220.9 625.7,223.5 622.7,225.2 621.4,227.7 618.0,229.0 617.3,230.6 614.2,232.0 614.5,233.2 610.8,234.5 613.1,236.6 610.8,239.1 613.9,241.1 620.3,243.2 626.1,244.6 623.0,246.5 623.0,248.4 619.5,249.6 622.2,251.6 622.1,252.8 626.1,254.1 622.7,256.2 622.4,258.4 617.8,260.3 619.5,261.6 615.9,263.4 616.2,264.8 617.5,266.0 625.4,267.8 619.8,269.6 618.5,271.4 621.2,273.2 626.9,275.5 623.5,277.1 624.6,278.8 619.4,281.0 622.2,283.5 620.8,285.5 622.9,287.6 621.8,289.4 623.3,291.4 617.3,293.5 616.1,295.5 610.8,297.2 614.1,298.4 613.7,299.8 617.8,301.1 618.0,302.7 623.7,305.1 621.0,307.5 621.6,310.0 616.9,312.5 617.1,313.8 613.8,315.8 618.5,318.4 620.5,321.0 623.6,322.2 621.5,324.6 620.5,327.2 616.0,329.7 617.2,332.0 615.0,334.1 617.7,335.3 619.3,337.5 624.3,339.2 625.2,340.5 627.4,342.2 622.0,344.7 622.3,345.9 617.9,347.3 617.1,349.2 611.1,351.3 613.8,353.9 614.9,356.0 619.3,358.3 619.1,360.9 620.9,362.4 616.7,365.1 619.6,367.2 618.6,369.3 622.2,371.5 621.9,373.3 625.0,374.9 622.5,377.0 625.8,378.8 623.6,381.3 625.3,383.5 621.2,384.8 618.9,386.6 614.4,387.8 613.7,389.1 612.6,390.7 616.2,391.9 619.5,394.3 624.6,396.3 624.8,397.6 626.4,398.8 626.0,400.2 627.7,402.5 622.8,404.1 622.0,405.5 616.7,407.1 616.7,408.6 616.2,409.8 621.4,411.9 624.2,413.6 624.9,415.1 621.1,417.6 627.3,420.1 624.2,422.0 620.9,424.4 619.0,425.8 622.9,427.7 623.6,429.5"/>
<polyline stroke="#5563bd" points="653.2,90.0 653.3,91.5 655.6,93.7 654.9,95.7 657.6,98.4 654.3,100.0 658.9,102.4 659.1,104.0 656.9,106.7 656.1,108.5 662.9,110.8 659.3,112.4 659.3,114.8 656.0,117.4 661.6,118.9 660.0,121.2 661.6,122.9 655.5,125.5 658.5,126.8 657.7,128.1 661.7,129.7 660.5,131.6 660.8,133.5 657.5,134.8 657.0,136.5 653.5,137.7 653.8,139.2 653.1,140.5 658.6,142.8 657.9,144.1 661.3,145.3 659.6,146.9 660.6,148.1 655.8,149.2 661.6,151.9 660.0,153.7 660.1,155.3 655.3,157.1 661.7,158.3 654.2,160.9 655.9,162.8 654.3,164.2 660.0,166.0 658.3,168.6 659.8,170.8 655.4,172.3 657.2,174.6 656.2,177.1 661.2,179.7 659.1,181.1 663.2,183.5 656.5,185.3 656.4,187.4 650.9,189.1 651.0,190.8 648.3,192.0 652.3,194.2 652.0,195.6 657.1,196.8 656.6,198.9 658.8,201.4 655.4,203.2 661.5,205.8 659.6,207.2 660.8,209.5 652.2,211.2 659.4,213.2 659.7,214.8 657.5,217.2 650.4,219.5 656.1,220.7 654.8,222.1 659.9,224.3 657.2,226.5 658.7,227.8 654.2,229.4 654.9,231.5 649.0,234.0 650.1,235.5 645.4,237.4 649.9,238.9 646.3,240.7 649.7,241.9 650.6,244.2 661.0,246.8 658.7,248.4 659.6,249.5 654.6,251.4 655.0,252.9 653.3,254.8 660.6,257.2 656.3,259.8 655.0,261.9 651.5,263.4 651.8,264.6 652.6,266.7 658.7,268.4 658.7,270.6 652.0,273.0 648.3,274.5 655.4,276.7 654.9,278.0 657.0,279.8 653.4,282.4 653.1,284.7 651.7,286.8 657.0,289.3 654.7,290.4 654.8,292.5 648.5,295.0 650.0,296.7 645.4,298.3 648.2,299.9 647.6,301.9 651.5,303.1 648.6,305.2 653.4,307.1 651.5,308.6 655.8,310.7 654.7,312.6 655.2,314.0 650.0,315.6 651.6,317.0 648.4,318.2 652.6,320.4 653.1,323.0 657.8,324.4 653.9,326.0 654.7,328.4 651.8,330.7 652.0,332.6 651.6,335.1 656.5,337.5 653.6,338.8 656.7,341.1 652.0,342.3 652.7,344.2 649.6,345.9 650.7,347.4 646.5,349.5 647.5,351.9 645.0,354.2 649.4,356.0 647.8,358.2 651.9,359.4 649.8,361.7 656.3,364.2 650.7,366.0 651.7,368.1 654.7,370.4 657.0,372.4 652.4,374.1 653.7,375.6 652.4,377.6 660.8,379.4 655.2,381.4 654.6,383.4 650.2,385.0 650.4,387.4 648.3,388.7 652.2,391.2 650.6,392.7 654.6,394.8 654.5,396.3 656.8,398.5 656.8,400.5 655.8,401.9 653.1,404.0 659.6,405.2 654.2,406.9 652.4,408.3 653.4,410.8 654.1,413.0 650.8,415.1 655.1,417.4 655.4,419.0 660.6,420.8 655.4,422.0 654.6,424.1 650.6,426.1 654.4,427.6 651.8,429.4 654.3,429.5"/>
<path d="M29.3 89.5V150" stroke="#f6cfc6" stroke-width="1.9"/>
</g>
<g id="hdr" font-family="'Liberation Serif',serif">
<text x="21.6" y="68.0" font-size="7.1" fill="#8e4a3c" stroke="#8e4a3c" stroke-width="0.22" text-anchor="middle" textLength="7.5" lengthAdjust="spacingAndGlyphs">GR</text>
<line x1="13.2" y1="69.5" x2="29.8" y2="69.5" stroke="#aeb6da" stroke-width="0.8"/>
<text x="13.5" y="73.1" font-size="4.1" fill="#222" font-weight="bold">0.1</text>
<text x="29.6" y="73.1" font-size="4.1" fill="#222" font-weight="bold" text-anchor="end">1.5</text>
<text x="21.8" y="80.9" font-size="7.1" fill="#8e4a3c" stroke="#8e4a3c" stroke-width="0.22" text-anchor="middle" textLength="8.0" lengthAdjust="spacingAndGlyphs">SP</text>
<line x1="13.2" y1="82.4" x2="29.8" y2="82.4" stroke="#f4b4a4" stroke-width="0.8"/>
<text x="13.5" y="86.0" font-size="4.1" fill="#222" font-weight="bold">65</text>
<text x="29.6" y="86.0" font-size="4.1" fill="#222" font-weight="bold" text-anchor="end">95</text>
<text x="56.3" y="68.0" font-size="7.1" fill="#8e4a3c" stroke="#8e4a3c" stroke-width="0.22" text-anchor="middle" textLength="15.4" lengthAdjust="spacingAndGlyphs">COND</text>
<line x1="48.0" y1="69.5" x2="64.6" y2="69.5" stroke="#aeb6da" stroke-width="0.8"/>
<text x="48.3" y="73.1" font-size="4.1" fill="#222" font-weight="bold">231</text>
<text x="64.4" y="73.1" font-size="4.1" fill="#222" font-weight="bold" text-anchor="end">1604</text>
<text x="56.4" y="80.9" font-size="7.1" fill="#8e4a3c" stroke="#8e4a3c" stroke-width="0.22" text-anchor="middle" textLength="11.4" lengthAdjust="spacingAndGlyphs">R25</text>
<line x1="48.0" y1="82.4" x2="64.6" y2="82.4" stroke="#f4b4a4" stroke-width="0.8"/>
<text x="48.3" y="86.0" font-size="4.1" fill="#222" font-weight="bold">0.6</text>
<text x="64.4" y="86.0" font-size="4.1" fill="#222" font-weight="bold" text-anchor="end">6.3</text>
<text x="32.6" y="82.7" font-size="6.8" fill="#8a5046" text-anchor="middle">!</text>
<text x="41.2" y="82.7" font-size="6.8" fill="#8a5046" text-anchor="middle">!</text>
<text x="291.6" y="68.0" font-size="7.1" fill="#8e4a3c" stroke="#8e4a3c" stroke-width="0.22" text-anchor="middle" textLength="7.5" lengthAdjust="spacingAndGlyphs">GR</text>
<line x1="283.2" y1="69.5" x2="299.8" y2="69.5" stroke="#aeb6da" stroke-width="0.8"/>
<text x="283.5" y="73.1" font-size="4.1" fill="#222" font-weight="bold">0.1</text>
<text x="299.6" y="73.1" font-size="4.1" fill="#222" font-weight="bold" text-anchor="end">1.3</text>
<text x="291.8" y="80.9" font-size="7.1" fill="#8e4a3c" stroke="#8e4a3c" stroke-width="0.22" text-anchor="middle" textLength="8.0" lengthAdjust="spacingAndGlyphs">SP</text>
<line x1="283.2" y1="82.4" x2="299.8" y2="82.4" stroke="#f4b4a4" stroke-width="0.8"/>
<text x="283.5" y="86.0" font-size="4.1" fill="#222" font-weight="bold">12</text>
<text x="299.6" y="86.0" font-size="4.1" fill="#222" font-weight="bold" text-anchor="end">89</text>
<text x="326.3" y="68.0" font-size="7.1" fill="#8e4a3c" stroke="#8e4a3c" stroke-width="0.22" text-anchor="middle" textLength="15.4" lengthAdjust="spacingAndGlyphs">COND</text>
<line x1="318.0" y1="69.5" x2="334.6" y2="69.5" stroke="#aeb6da" stroke-width="0.8"/>
<text x="318.3" y="73.1" font-size="4.1" fill="#222" font-weight="bold">235</text>
<text x="334.4" y="73.1" font-size="4.1" fill="#222" font-weight="bold" text-anchor="end">2037</text>
<text x="326.4" y="80.9" font-size="7.1" fill="#8e4a3c" stroke="#8e4a3c" stroke-width="0.22" text-anchor="middle" textLength="11.4" lengthAdjust="spacingAndGlyphs">R25</text>
<line x1="318.0" y1="82.4" x2="334.6" y2="82.4" stroke="#f4b4a4" stroke-width="0.8"/>
<text x="318.3" y="86.0" font-size="4.1" fill="#222" font-weight="bold">0.5</text>
<text x="334.4" y="86.0" font-size="4.1" fill="#222" font-weight="bold" text-anchor="end">4.9</text>
<text x="302.6" y="82.7" font-size="6.8" fill="#8a5046" text-anchor="middle">!</text>
<text x="311.2" y="82.7" font-size="6.8" fill="#8a5046" text-anchor="middle">!</text>
<text x="422.5" y="74.6" font-size="7.1" fill="#8e4a3c" stroke="#8e4a3c" stroke-width="0.22" text-anchor="middle" textLength="7.8" lengthAdjust="spacingAndGlyphs">SP</text>
<line x1="413.9" y1="76.1" x2="430.5" y2="76.1" stroke="#f4b4a4" stroke-width="0.8"/>
<text x="414.2" y="79.7" font-size="4.1" fill="#222" font-weight="bold">90</text>
<text x="430.3" y="79.7" font-size="4.1" fill="#222" font-weight="bold" text-anchor="end">127</text>
<text x="457.0" y="68.0" font-size="7.1" fill="#8e4a3c" stroke="#8e4a3c" stroke-width="0.22" text-anchor="middle" textLength="15.4" lengthAdjust="spacingAndGlyphs">COND</text>
<line x1="448.7" y1="69.5" x2="465.3" y2="69.5" stroke="#aeb6da" stroke-width="0.8"/>
<text x="449.0" y="73.1" font-size="4.1" fill="#222" font-weight="bold">121</text>
<text x="465.1" y="73.1" font-size="4.1" fill="#222" font-weight="bold" text-anchor="end">1033</text>
<text x="457.1" y="80.9" font-size="7.1" fill="#8e4a3c" stroke="#8e4a3c" stroke-width="0.22" text-anchor="middle" textLength="11.4" lengthAdjust="spacingAndGlyphs">R25</text>
<line x1="448.7" y1="82.4" x2="465.3" y2="82.4" stroke="#f4b4a4" stroke-width="0.8"/>
<text x="449.0" y="86.0" font-size="4.1" fill="#222" font-weight="bold">0.5</text>
<text x="465.1" y="86.0" font-size="4.1" fill="#222" font-weight="bold" text-anchor="end">9.5</text>
<text x="433.3" y="82.7" font-size="6.8" fill="#8a5046" text-anchor="middle">!</text>
<text x="441.9" y="82.7" font-size="6.8" fill="#8a5046" text-anchor="middle">!</text>
<text x="619.1" y="68.0" font-size="7.1" fill="#8e4a3c" stroke="#8e4a3c" stroke-width="0.22" text-anchor="middle" textLength="7.5" lengthAdjust="spacingAndGlyphs">GR</text>
<line x1="610.7" y1="69.5" x2="627.3" y2="69.5" stroke="#aeb6da" stroke-width="0.8"/>
<text x="611.0" y="73.1" font-size="4.1" fill="#222" font-weight="bold">0.1</text>
<text x="627.1" y="73.1" font-size="4.1" fill="#222" font-weight="bold" text-anchor="end">1.2</text>
<text x="619.3" y="80.9" font-size="7.1" fill="#8e4a3c" stroke="#8e4a3c" stroke-width="0.22" text-anchor="middle" textLength="8.0" lengthAdjust="spacingAndGlyphs">SP</text>
<line x1="610.7" y1="82.4" x2="627.3" y2="82.4" stroke="#f4b4a4" stroke-width="0.8"/>
<text x="611.0" y="86.0" font-size="4.1" fill="#222" font-weight="bold">68</text>
<text x="627.1" y="86.0" font-size="4.1" fill="#222" font-weight="bold" text-anchor="end">111</text>
<text x="653.8" y="68.0" font-size="7.1" fill="#8e4a3c" stroke="#8e4a3c" stroke-width="0.22" text-anchor="middle" textLength="15.4" lengthAdjust="spacingAndGlyphs">COND</text>
<line x1="645.5" y1="69.5" x2="662.1" y2="69.5" stroke="#aeb6da" stroke-width="0.8"/>
<text x="645.8" y="73.1" font-size="4.1" fill="#222" font-weight="bold">19</text>
<text x="661.9" y="73.1" font-size="4.1" fill="#222" font-weight="bold" text-anchor="end">1407</text>
<text x="653.9" y="80.9" font-size="7.1" fill="#8e4a3c" stroke="#8e4a3c" stroke-width="0.22" text-anchor="middle" textLength="11.4" lengthAdjust="spacingAndGlyphs">R25</text>
<line x1="645.5" y1="82.4" x2="662.1" y2="82.4" stroke="#f4b4a4" stroke-width="0.8"/>
<text x="645.8" y="86.0" font-size="4.1" fill="#222" font-weight="bold">1.4</text>
<text x="661.9" y="86.0" font-size="4.1" fill="#222" font-weight="bold" text-anchor="end">10</text>
<text x="630.1" y="82.7" font-size="6.8" fill="#8a5046" text-anchor="middle">!</text>
<text x="638.7" y="82.7" font-size="6.8" fill="#8a5046" text-anchor="middle">!</text>
</g>
<g font-family="'Liberation Serif',serif" font-size="13.9" fill="#222" text-anchor="middle">
<text y="50.9"><tspan x="22.8" textLength="6.0" lengthAdjust="spacingAndGlyphs">W</tspan><tspan x="29.2" textLength="5.9" lengthAdjust="spacingAndGlyphs">5</tspan><tspan x="35.8" textLength="5.9" lengthAdjust="spacingAndGlyphs">1</tspan><tspan x="42.2" dy="0.5" textLength="6.0" lengthAdjust="spacingAndGlyphs">-</tspan><tspan x="48.8" dy="-0.5" textLength="5.9" lengthAdjust="spacingAndGlyphs">7</tspan><tspan x="55.2" textLength="5.9" lengthAdjust="spacingAndGlyphs">2</tspan></text>
<text y="50.9"><tspan x="292.6" textLength="6.0" lengthAdjust="spacingAndGlyphs">W</tspan><tspan x="299.1" textLength="5.9" lengthAdjust="spacingAndGlyphs">5</tspan><tspan x="305.6" textLength="5.9" lengthAdjust="spacingAndGlyphs">1</tspan><tspan x="312.1" dy="0.5" textLength="6.0" lengthAdjust="spacingAndGlyphs">-</tspan><tspan x="318.6" dy="-0.5" textLength="5.9" lengthAdjust="spacingAndGlyphs">9</tspan><tspan x="325.1" textLength="5.9" lengthAdjust="spacingAndGlyphs">9</tspan></text>
<text y="50.9"><tspan x="429.6" textLength="5.9" lengthAdjust="spacingAndGlyphs">3</tspan><tspan x="436.1" dy="0.5" textLength="6.0" lengthAdjust="spacingAndGlyphs">-</tspan><tspan x="442.6" dy="-0.5" textLength="5.9" lengthAdjust="spacingAndGlyphs">3</tspan><tspan x="449.1" textLength="5.9" lengthAdjust="spacingAndGlyphs">9</tspan></text>
<text y="50.9"><tspan x="630.0" textLength="5.9" lengthAdjust="spacingAndGlyphs">3</tspan><tspan x="636.5" dy="0.5" textLength="6.0" lengthAdjust="spacingAndGlyphs">-</tspan><tspan x="643.0" dy="-0.5" textLength="5.9" lengthAdjust="spacingAndGlyphs">2</tspan><tspan x="649.5" textLength="5.9" lengthAdjust="spacingAndGlyphs">7</tspan><tspan x="656.0" textLength="5.9" lengthAdjust="spacingAndGlyphs">4</tspan></text>
</g>
<rect x="8" y="23.3" width="62" height="5.2" fill="#000"/>
<polygon points="68,19.7 75.6,25.9 68,32.0" fill="#000"/>
<text x="90.1" y="31.8" font-family="'Liberation Sans',sans-serif" font-weight="bold" font-size="16.3" fill="#000">SE</text>
<rect x="457.9" y="25.4" width="179.7" height="5.3" fill="#000"/>
<rect x="458.7" y="27.7" width="43.9" height="0.95" fill="#fff"/>
<rect x="548.5" y="27.7" width="43.9" height="0.95" fill="#fff"/>
<g stroke="#000" stroke-width="0.9">
<line x1="458.3" y1="24.1" x2="458.3" y2="25.6"/>
<line x1="502.8" y1="24.1" x2="502.8" y2="25.6"/>
<line x1="547.8" y1="24.1" x2="547.8" y2="25.6"/>
<line x1="592.7" y1="24.1" x2="592.7" y2="25.6"/>
<line x1="637.2" y1="24.1" x2="637.2" y2="25.6"/>
</g>
<g font-family="'Liberation Serif',serif" font-size="9.7" fill="#111" text-anchor="middle">
<text x="458.0" y="23">0</text>
<text x="502.9" y="23">200</text>
<text x="547.9" y="23">400</text>
<text x="592.8" y="23">600</text>
<text x="629.4" y="23" text-anchor="start">800 m</text>
<text x="547.1" y="43.4" textLength="35" lengthAdjust="spacing">1 : 4 000</text>
</g>
<path d="M0 0H686V469H0Z M1.1 1H684.9V467.8H1.1Z" fill="#000" fill-rule="evenodd"/>
</svg>
</body></html>
